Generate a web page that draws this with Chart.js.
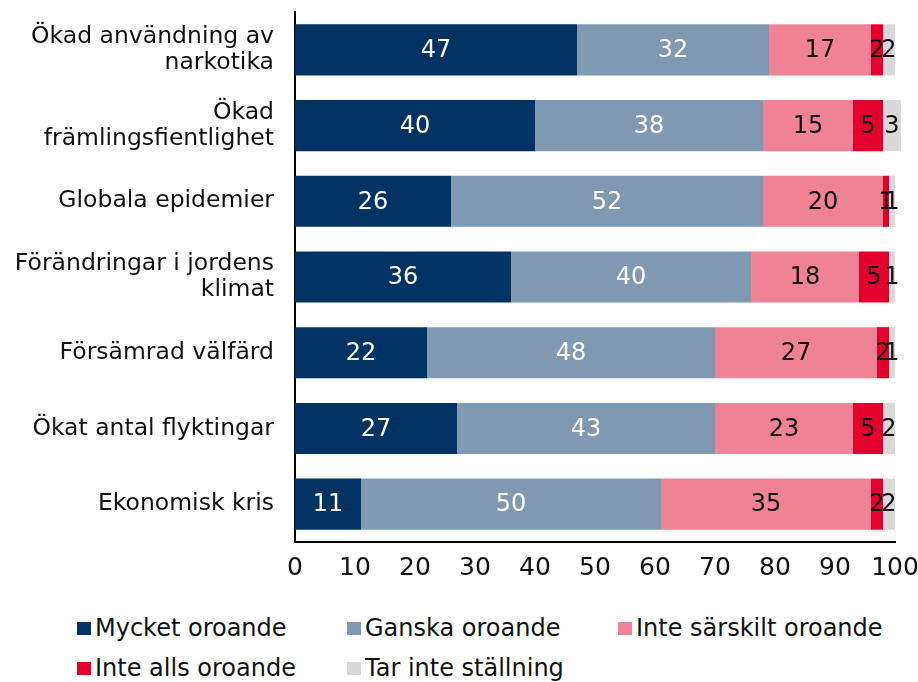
<!DOCTYPE html>
<html>
<head>
<meta charset="utf-8">
<script src="https://cdn.jsdelivr.net/npm/chart.js@4.4.1/dist/chart.umd.min.js"></script>
<style>
  body { margin: 0; background: #fff; font-family: "DejaVu Sans", sans-serif; }
  #wrap { position: relative; width: 918px; height: 592px; }
  #legend { position: absolute; left: 0; top: 614px; width: 918px; }
  .item { position: absolute; font-size: 24px; color: #111; white-space: nowrap; line-height: 28px; }
  .item span.box { display: inline-block; width: 14px; height: 13px; margin-right: 4px; vertical-align: 1px; }
</style>
</head>
<body>
<div id="wrap"><canvas id="myChart"></canvas></div>
<div id="legend"></div>
<script>
const categories = [
  ['Ökad användning av', 'narkotika'],
  ['Ökad', 'främlingsfientlighet'],
  'Globala epidemier',
  ['Förändringar i jordens', 'klimat'],
  'Försämrad välfärd',
  'Ökat antal flyktingar',
  'Ekonomisk kris'
];
const seriesNames = ['Mycket oroande', 'Ganska oroande', 'Inte särskilt oroande', 'Inte alls oroande', 'Tar inte ställning'];
const mycket = [47, 40, 26, 36, 22, 27, 11];
const ganska = [32, 38, 52, 40, 48, 43, 50];
const inteSarskilt = [17, 15, 20, 18, 27, 23, 35];
const inteAlls = [2, 5, 1, 5, 2, 5, 2];
const tarInte = [2, 3, 1, 1, 1, 2, 2];
const xTicks = [0, 10, 20, 30, 40, 50, 60, 70, 80, 90, 100];

const colors = ['#003263', '#7f99b3', '#f08296', '#e3002c', '#d9d9d9'];
const labelColors = ['#fff', '#fff', '#111', '#111', '#111'];
const values = [mycket, ganska, inteSarskilt, inteAlls, tarInte];
const FONT = '"DejaVu Sans"';

// draw the value in the middle of each segment
const barLabels = {
  id: 'barLabels',
  afterDatasetsDraw(chart) {
    const c = chart.ctx;
    c.save();
    c.font = '24px ' + FONT;
    c.textAlign = 'center';
    c.textBaseline = 'middle';
    chart.data.datasets.forEach((ds, i) => {
      const meta = chart.getDatasetMeta(i);
      meta.data.forEach((bar, j) => {
        c.fillStyle = labelColors[i];
        c.fillText(ds.data[j], (bar.x + bar.base) / 2, bar.y + 1);
      });
    });
    c.restore();
  }
};

const ctx = document.getElementById('myChart');
new Chart(ctx, {
  type: 'bar',
  data: {
    labels: categories,
    datasets: values.map((v, i) => ({
      label: seriesNames[i],
      data: v,
      backgroundColor: colors[i],
      categoryPercentage: 0.675,
      barPercentage: 1,
      clip: false
    }))
  },
  options: {
    indexAxis: 'y',
    responsive: true,
    maintainAspectRatio: false,
    animation: false,
    layout: { padding: { top: 12, right: 23, left: 0, bottom: 0 } },
    plugins: {
      legend: { display: false },
      tooltip: { enabled: false }
    },
    scales: {
      x: {
        stacked: true,
        min: 0,
        max: 100,
        afterBuildTicks: s => { s.ticks = xTicks.map(v => ({ value: v })); },
        grid: { display: false, drawTicks: false },
        border: { color: '#000', width: 2 },
        ticks: { color: '#111', font: { size: 25, family: FONT }, padding: 11, maxRotation: 0, autoSkip: false },
        afterFit: s => { s.height = 50; s.paddingLeft = 0; s.paddingRight = 0; }
      },
      y: {
        stacked: true,
        grid: { display: false, drawTicks: false },
        border: { color: '#000', width: 2 },
        ticks: { color: '#111', font: { size: 23.5, family: FONT, lineHeight: 1.12 }, padding: 21 },
        afterFit: s => { s.width = 295; s.paddingTop = 0; s.paddingBottom = 0; }
      }
    }
  },
  plugins: [barLabels]
});

// legend laid out in a grid like the original
const legendPos = [[77, 0], [347, 0], [618, 0], [77, 40], [347, 40]];
const legend = document.getElementById('legend');
seriesNames.forEach((name, i) => {
  const d = document.createElement('div');
  d.className = 'item';
  d.style.left = legendPos[i][0] + 'px';
  d.style.top = legendPos[i][1] + 'px';
  d.innerHTML = '<span class="box" style="background:' + colors[i] + '"></span>' + name;
  legend.appendChild(d);
});
</script>
</body>
</html>
